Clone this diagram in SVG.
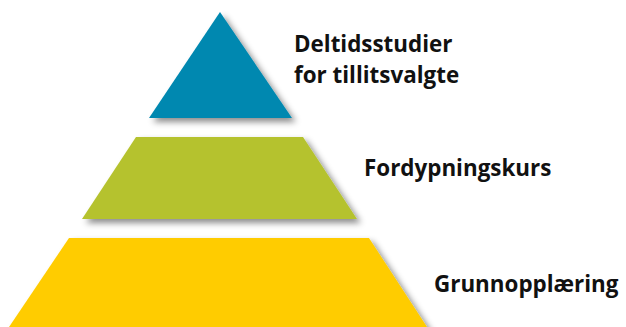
<svg xmlns="http://www.w3.org/2000/svg" width="626" height="327" viewBox="0 0 626 327">
<defs>
<filter id="sh" x="-20%" y="-20%" width="150%" height="150%">
<feDropShadow dx="4" dy="4" stdDeviation="3" flood-color="#000" flood-opacity="0.45"/>
</filter>
<style>
.lbl{font-family:"Open Sans","Noto Sans",sans-serif;font-weight:bold;font-size:22.4px;fill:#111}
</style>
</defs>
<rect width="626" height="327" fill="#fff"/>
<g id="level3">
<polygon points="69,238 369,238 429,330 7,330" fill="#FFCC00" filter="url(#sh)"/>
<text class="lbl" x="434" y="292">Grunnopplæring</text>
</g>
<g id="level2">
<polygon points="136,137 303,137 357,219 82,219" fill="#B5C22D" filter="url(#sh)"/>
<text class="lbl" x="364" y="176">Fordypningskurs</text>
</g>
<g id="level1">
<polygon points="220,12 292,118 149,118" fill="#0088B0" filter="url(#sh)"/>
<text class="lbl" x="294" y="52">Deltidsstudier</text>
<text class="lbl" x="294" y="83">for tillitsvalgte</text>
</g>
<g id="connectors"/>
</svg>
